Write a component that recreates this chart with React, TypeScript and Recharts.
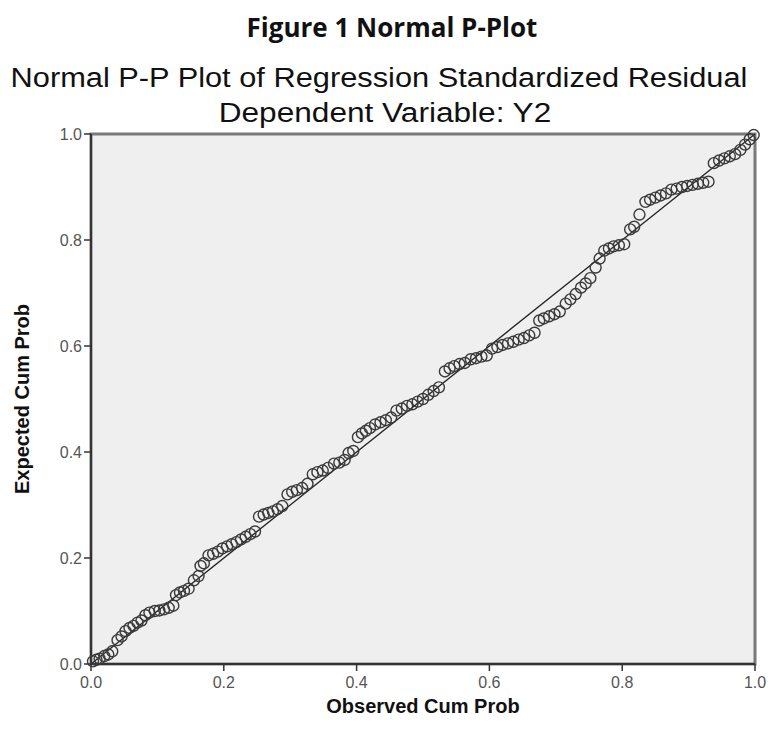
import { ScatterChart, Scatter, XAxis, YAxis, ReferenceArea, ReferenceLine } from "recharts";

// Observed cumulative probability (x) and expected cumulative probability (y)
const observed = [
  0.003, 0.008, 0.013, 0.02, 0.026, 0.032, 0.04, 0.046, 0.052, 0.058, 0.064, 0.07, 0.076, 0.082, 0.088,
  0.096, 0.103, 0.11, 0.117, 0.124, 0.128, 0.134, 0.14, 0.147, 0.155, 0.162, 0.165, 0.17, 0.177, 0.184,
  0.191, 0.198, 0.205, 0.212, 0.219, 0.226, 0.233, 0.24, 0.247, 0.253, 0.26, 0.267, 0.274, 0.281, 0.288,
  0.296, 0.303, 0.31, 0.318, 0.326, 0.334, 0.341, 0.349, 0.357, 0.366, 0.374, 0.382, 0.388, 0.395, 0.402,
  0.408, 0.414, 0.42, 0.428, 0.436, 0.444, 0.452, 0.46, 0.468, 0.476, 0.484, 0.492, 0.5, 0.508, 0.516,
  0.524, 0.533, 0.54, 0.547, 0.555, 0.563, 0.572, 0.58, 0.588, 0.596, 0.604, 0.612, 0.62, 0.628, 0.636,
  0.644, 0.652, 0.66, 0.668, 0.675, 0.682, 0.69, 0.698, 0.706, 0.715, 0.722, 0.73, 0.738, 0.745, 0.752,
  0.76, 0.766, 0.773, 0.78, 0.787, 0.795, 0.803, 0.812, 0.818, 0.826, 0.835, 0.842, 0.85, 0.858, 0.866,
  0.874, 0.882, 0.89, 0.898, 0.906, 0.914, 0.922, 0.93, 0.938, 0.946, 0.954, 0.962, 0.97, 0.978, 0.985,
  0.992, 0.998,
];

const expected = [
  0.005, 0.008, 0.01, 0.015, 0.018, 0.024, 0.045, 0.052, 0.062, 0.068, 0.072, 0.078, 0.082, 0.092, 0.097,
  0.1, 0.101, 0.103, 0.106, 0.11, 0.13, 0.135, 0.138, 0.142, 0.158, 0.166, 0.185, 0.19, 0.205, 0.208,
  0.212, 0.218, 0.222, 0.226, 0.23, 0.235, 0.24, 0.245, 0.25, 0.278, 0.282, 0.285, 0.288, 0.292, 0.298,
  0.32, 0.325, 0.328, 0.332, 0.34, 0.358, 0.362, 0.365, 0.37, 0.378, 0.38, 0.385, 0.398, 0.402, 0.428,
  0.435, 0.44, 0.445, 0.452, 0.456, 0.46, 0.465, 0.478, 0.482, 0.487, 0.49, 0.495, 0.5, 0.508, 0.515,
  0.522, 0.552, 0.558, 0.562, 0.566, 0.568, 0.575, 0.577, 0.58, 0.582, 0.595, 0.598, 0.602, 0.605, 0.608,
  0.612, 0.615, 0.62, 0.625, 0.648, 0.652, 0.656, 0.66, 0.665, 0.68, 0.688, 0.698, 0.71, 0.718, 0.728,
  0.748, 0.765, 0.78, 0.784, 0.788, 0.79, 0.792, 0.82, 0.825, 0.848, 0.872, 0.876, 0.88, 0.884, 0.888,
  0.895, 0.897, 0.9, 0.902, 0.904, 0.906, 0.908, 0.91, 0.945, 0.95, 0.954, 0.958, 0.962, 0.97, 0.98,
  0.99, 0.998,
];

const axisTicks = [0, 0.2, 0.4, 0.6, 0.8, 1];

const points = observed.map((x, i) => ({ x, y: expected[i] }));

const arial = "Arial, 'Liberation Sans', sans-serif";

// hollow circle marker like the SPSS plot
const Ring = (props: any) => {
  const { cx, cy } = props;
  return <circle cx={cx} cy={cy} r={5.5} fill="none" stroke="#3a3a3a" strokeWidth={1.4} />;
};

export default function App() {
  return (
    <div style={{ position: "absolute", left: 0, top: 0, width: 768, height: 729, background: "#fff" }}>
      <div
        style={{
          position: "absolute", left: 0, top: 10, width: 784, textAlign: "center",
          fontFamily: "'Open Sans', sans-serif", fontWeight: 700, fontSize: 26, lineHeight: "34px", color: "#111",
        }}
      >
        Figure 1 Normal P-Plot
      </div>
      <div
        style={{
          position: "absolute", left: 0, top: 62, width: 758, textAlign: "center",
          fontFamily: arial, fontSize: 27, lineHeight: "32px", color: "#111",
          transform: "scaleX(1.14)", transformOrigin: "379px 0",
        }}
      >
        Normal P-P Plot of Regression Standardized Residual
      </div>
      <div
        style={{
          position: "absolute", left: 0, top: 97, width: 770, textAlign: "center",
          fontFamily: arial, fontSize: 27, lineHeight: "32px", color: "#111",
          transform: "scaleX(1.17)", transformOrigin: "385px 0",
        }}
      >
        Dependent Variable: Y2
      </div>

      <div style={{ position: "absolute", left: 0, top: 0 }}>
        <ScatterChart width={768} height={729} margin={{ top: 134, right: 13, bottom: 10, left: 46 }}>
          <XAxis
            type="number"
            dataKey="x"
            domain={[0, 1]}
            ticks={axisTicks}
            tickFormatter={(v: number) => v.toFixed(1)}
            height={55}
            tickSize={7}
            axisLine={{ stroke: "#333", strokeWidth: 2 }}
            tickLine={{ stroke: "#333", strokeWidth: 1.5 }}
            tick={{ fill: "#555", fontSize: 16, fontFamily: arial, dy: 4 }}
            label={{
              value: "Observed Cum Prob", position: "insideBottom", offset: 6,
              style: { fontFamily: arial, fontWeight: 700, fontSize: 20, fill: "#111" },
            }}
          />
          <YAxis
            type="number"
            dataKey="y"
            domain={[0, 1]}
            ticks={axisTicks}
            tickFormatter={(v: number) => v.toFixed(1)}
            width={45}
            tickSize={7}
            axisLine={{ stroke: "#333", strokeWidth: 2 }}
            tickLine={{ stroke: "#333", strokeWidth: 1.5 }}
            tick={{ fill: "#555", fontSize: 16, fontFamily: arial }}
            label={{
              value: "Expected Cum Prob", angle: -90, position: "insideLeft", offset: -24,
              style: { fontFamily: arial, fontWeight: 700, fontSize: 20, fill: "#111", textAnchor: "middle" },
            }}
          />
          <ReferenceArea x1={0} x2={1} y1={0} y2={1} fill="#efefef" fillOpacity={1} stroke="#7a7a7a" strokeWidth={3} />
          <ReferenceLine segment={[{ x: 0, y: 0 }, { x: 1, y: 1 }]} stroke="#222" strokeWidth={1.3} />
          <Scatter data={points} shape={<Ring />} isAnimationActive={false} />
        </ScatterChart>
      </div>
    </div>
  );
}
